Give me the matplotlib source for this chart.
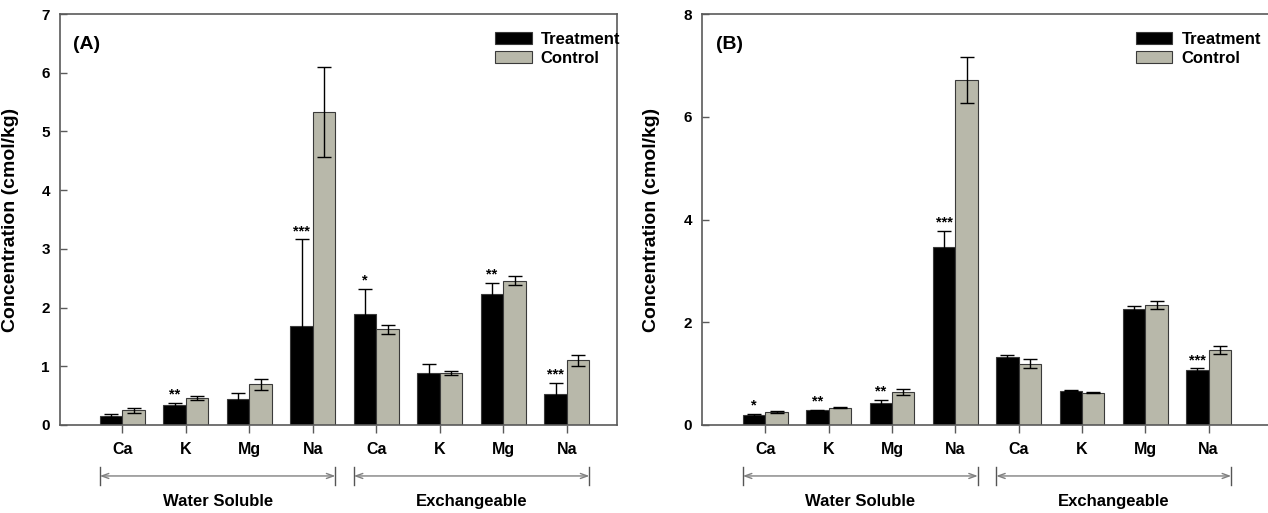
import matplotlib.pyplot as plt
import matplotlib.transforms as mtransforms
import numpy as np

plt.rcParams['font.family'] = ['Liberation Sans', 'DejaVu Sans']
plt.rcParams['font.weight'] = 'bold'
plt.rcParams['axes.labelweight'] = 'bold'

# data
elements = ['Ca', 'K', 'Mg', 'Na', 'Ca', 'K', 'Mg', 'Na']
groups = ['Water Soluble', 'Exchangeable']
group_span = [(0, 3), (4, 7)]

a_treat = [0.16, 0.34, 0.44, 1.68, 1.89, 0.89, 2.23, 0.53]
a_treat_err = [0.03, 0.03, 0.10, 1.48, 0.43, 0.15, 0.19, 0.19]
a_ctrl = [0.25, 0.46, 0.69, 5.33, 1.63, 0.89, 2.46, 1.10]
a_ctrl_err = [0.04, 0.03, 0.10, 0.77, 0.08, 0.03, 0.08, 0.09]
a_stars = ['', '**', '', '***', '*', '', '**', '***']

b_treat = [0.19, 0.285, 0.43, 3.46, 1.33, 0.67, 2.26, 1.07]
b_treat_err = [0.02, 0.01, 0.05, 0.32, 0.04, 0.01, 0.05, 0.03]
b_ctrl = [0.25, 0.34, 0.64, 6.72, 1.19, 0.63, 2.33, 1.46]
b_ctrl_err = [0.02, 0.01, 0.065, 0.45, 0.085, 0.01, 0.075, 0.07]
b_stars = ['*', '**', '**', '***', '', '', '', '***']

TREAT_C = 'black'
CTRL_C = '#b8b8aa'
EDGE_C = '#3a3a3a'
SPINE_C = '#5a5a5a'
w = 0.355


def panel(ax, treat, terr, ctrl, cerr, stars, ymax, ystep, tag, xlim):
    x = np.arange(len(elements))
    ax.bar(x - w / 2, treat, w, color=TREAT_C, edgecolor=EDGE_C, linewidth=0.8,
           label='Treatment', zorder=2)
    ax.bar(x + w / 2, ctrl, w, color=CTRL_C, edgecolor=EDGE_C, linewidth=0.8,
           label='Control', zorder=2)
    ax.errorbar(x - w / 2, treat, yerr=terr, fmt='none', ecolor='black',
                elinewidth=1, capsize=4.7, capthick=1, zorder=3)
    ax.errorbar(x + w / 2, ctrl, yerr=cerr, fmt='none', ecolor='black',
                elinewidth=1, capsize=4.7, capthick=1, zorder=3)
    for xi, t, e, s in zip(x, treat, terr, stars):
        if s:
            ax.annotate(s, (xi - w / 2, t + e), xytext=(0, 1),
                        textcoords='offset points', ha='center', va='bottom',
                        fontsize=10.5, fontweight='bold')

    ax.set_xlim(*xlim)
    ax.set_ylim(0, ymax)
    ax.set_yticks(np.arange(0, ymax + 0.01, ystep))
    ax.set_xticks(x)
    ax.set_xticklabels(elements, fontsize=11.5, fontweight='bold')
    ax.tick_params(axis='x', direction='out', length=6, width=1,
                   color=SPINE_C, pad=6)
    ax.tick_params(axis='y', direction='in', length=5, width=1,
                   color=SPINE_C, pad=7, labelsize=11)
    for sp in ax.spines.values():
        sp.set_color(SPINE_C)
        sp.set_linewidth(1.2)

    ax.set_ylabel('Concentration (cmol/kg)', fontsize=14, fontweight='bold')
    ax.yaxis.set_label_coords(-0.073, 0.5)
    ax.text(0.024, 0.927, tag, transform=ax.transAxes, fontsize=14,
            fontweight='bold', ha='left', va='center')

    # group brackets below the axis
    trans = mtransforms.blended_transform_factory(ax.transData, ax.transAxes)
    for name, (i0, i1) in zip(groups, group_span):
        x0 = i0 - w
        x1 = i1 + w
        ax.annotate('', xy=(x0, -0.124), xytext=(x1, -0.124),
                    xycoords=trans, textcoords=trans,
                    arrowprops=dict(arrowstyle='<->,head_length=0.5,head_width=0.18',
                                    color='#808080', lw=1, shrinkA=0, shrinkB=0))
        for xe in (x0, x1):
            ax.plot([xe, xe], [-0.101, -0.147], transform=trans, color='#555555',
                    lw=1, clip_on=False)
        ax.text((x0 + x1) / 2, -0.185, name, transform=trans, ha='center',
                va='center', fontsize=12, fontweight='bold')


fig = plt.figure(figsize=(12.68, 5.13), dpi=100)
ax_a = fig.add_axes([59.5 / 1268, 88 / 513, 557.5 / 1268, 411 / 513])
ax_b = fig.add_axes([702 / 1268, 88 / 513, 570 / 1268, 411 / 513])

panel(ax_a, a_treat, a_treat_err, a_ctrl, a_ctrl_err, a_stars, 7, 1, '(A)',
      (-0.99, 7.79))
panel(ax_b, b_treat, b_treat_err, b_ctrl, b_ctrl_err, b_stars, 8, 2, '(B)',
      (-1.0, 8.0))

for ax, lx in ((ax_a, 0.781), (ax_b, 0.761)):
    leg = ax.legend(loc='upper left', bbox_to_anchor=(lx, 0.957), frameon=False,
                    fontsize=12, handlelength=2.2, handleheight=0.75,
                    labelspacing=0.25, handletextpad=0.55, borderpad=0,
                    borderaxespad=0)
    for t in leg.get_texts():
        t.set_fontweight('bold')

fig.savefig('out.png', dpi=100)
